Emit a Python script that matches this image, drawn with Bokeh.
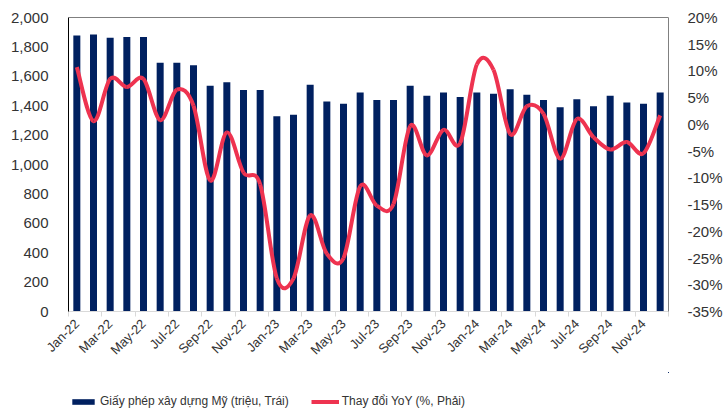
from math import pi
from bokeh.plotting import figure
from bokeh.layouts import column
from bokeh.models import (Range1d, LinearAxis, FixedTicker, NumeralTickFormatter,
                          PrintfTickFormatter, Legend, LegendItem, Span, ColumnDataSource)
from bokeh.embed import file_html
from bokeh.resources import INLINE

months = ["Jan-22", "Feb-22", "Mar-22", "Apr-22", "May-22", "Jun-22", "Jul-22", "Aug-22",
          "Sep-22", "Oct-22", "Nov-22", "Dec-22", "Jan-23", "Feb-23", "Mar-23", "Apr-23",
          "May-23", "Jun-23", "Jul-23", "Aug-23", "Sep-23", "Oct-23", "Nov-23", "Dec-23",
          "Jan-24", "Feb-24", "Mar-24", "Apr-24", "May-24", "Jun-24", "Jul-24", "Aug-24",
          "Sep-24", "Oct-24", "Nov-24", "Dec-24"]
permits = [1878, 1884, 1862, 1868, 1868, 1692, 1692, 1676, 1535, 1560, 1506, 1506,
           1329, 1338, 1542, 1429, 1413, 1490, 1438, 1438, 1535, 1467, 1490, 1460,
           1490, 1481, 1512, 1474, 1438, 1390, 1444, 1397, 1467, 1422, 1413, 1490]
yoy = [10.7, 0.6, 8.5, 7.0, 8.5, 0.8, 6.5, 3.5, -10.5, -1.5, -9.0, -11.2,
       -28.8, -28.8, -17.0, -24.2, -25.0, -11.6, -15.2, -14.9, -0.3, -5.8, -1.0, -3.5,
       11.2, 10.2, -1.8, 3.4, 2.0, -6.4, 1.0, -2.4, -4.7, -3.3, -5.4, 1.7]
left_ticks = list(range(0, 2001, 200))
right_ticks = list(range(-35, 21, 5))
label_name_bar = "Giấy phép xây dựng Mỹ (triệu, Trái)"
label_name_line = "Thay đổi YoY (%, Phải)"

NAVY = "#002060"
RED = "#EE3350"
FONT = "Liberation Sans"
TXT = "#333333"
W = 725

n = len(months)
xs = list(range(n))

p = figure(width=W, height=372, output_backend="svg", toolbar_location=None,
           x_range=Range1d(-0.5, n - 0.5), y_range=Range1d(0, 2000),
           min_border_left=68, min_border_right=W - 671, min_border_top=17, min_border_bottom=61)
p.extra_y_ranges = {"pct": Range1d(-35, 20)}
p.xgrid.visible = False
p.ygrid.visible = False
p.outline_line_color = None

src = ColumnDataSource(dict(x=xs, permits=permits, yoy=yoy))
bars = p.vbar(x="x", top="permits", width=0.42, source=src, fill_color=NAVY, line_color=None)

# smooth curve (Catmull-Rom style Bezier like spreadsheet smoothed lines)
x0, y0, x1, y1, cx0, cy0, cx1, cy1 = [], [], [], [], [], [], [], []
for i in range(n - 1):
    ip = max(i - 1, 0)
    inx = min(i + 2, n - 1)
    x0.append(xs[i]); y0.append(yoy[i]); x1.append(xs[i + 1]); y1.append(yoy[i + 1])
    cx0.append(xs[i] + (xs[i + 1] - xs[ip]) / 6.0)
    cy0.append(yoy[i] + (yoy[i + 1] - yoy[ip]) / 6.0)
    cx1.append(xs[i + 1] - (xs[inx] - xs[i]) / 6.0)
    cy1.append(yoy[i + 1] - (yoy[inx] - yoy[i]) / 6.0)
bsrc = ColumnDataSource(dict(x0=x0, y0=y0, x1=x1, y1=y1, cx0=cx0, cy0=cy0, cx1=cx1, cy1=cy1))
curve = p.bezier(x0="x0", y0="y0", x1="x1", y1="y1", cx0="cx0", cy0="cy0", cx1="cx1", cy1="cy1",
                 source=bsrc, line_color=RED, line_width=4, y_range_name="pct")

# x axis
xa = p.xaxis[0]
xa.ticker = FixedTicker(ticks=xs[::2], minor_ticks=[i - 0.5 for i in range(0, n + 1, 2)])
xa.major_label_overrides = {i: months[i] for i in xs[::2]}
xa.major_label_orientation = pi / 4
xa.major_tick_line_color = None
xa.minor_tick_in = 0
xa.minor_tick_out = 5
xa.minor_tick_line_color = "#d9d9d9"
xa.axis_line_color = "#d9d9d9"
xa.major_label_text_font = FONT
xa.major_label_text_font_size = "13px"
xa.major_label_text_color = TXT
xa.major_label_standoff = 4

# left axis
ya = p.yaxis[0]
ya.ticker = FixedTicker(ticks=left_ticks)
ya.formatter = NumeralTickFormatter(format="0,0")
ya.major_tick_line_color = None
ya.minor_tick_line_color = None
ya.axis_line_color = "black"
ya.major_label_text_font = FONT
ya.major_label_text_font_size = "15px"
ya.major_label_text_color = TXT
ya.major_label_standoff = 14

# right axis
ra = LinearAxis(y_range_name="pct", ticker=FixedTicker(ticks=right_ticks),
                formatter=PrintfTickFormatter(format="%d%%"))
ra.major_tick_line_color = None
ra.minor_tick_line_color = None
ra.axis_line_color = "#808080"
ra.major_label_text_font = FONT
ra.major_label_text_font_size = "15px"
ra.major_label_text_color = TXT
ra.major_label_standoff = 13
p.add_layout(ra, "right")

p.add_layout(Span(location=2000, dimension="width", line_color="black", line_width=1))

# legend strip below the chart (its sample glyphs use the same data, kept outside its view)
lg = figure(width=W, height=36, output_backend="svg", toolbar_location=None,
            x_range=Range1d(-1000, -999), y_range=Range1d(-1000, -999),
            x_axis_type=None, y_axis_type=None,
            min_border_left=0, min_border_right=0, min_border_top=0, min_border_bottom=0)
lg.outline_line_color = None
lbars = lg.vbar(x="x", top="permits", width=0.42, source=src, fill_color=NAVY, line_color=None)
lcurve = lg.bezier(x0="x0", y0="y0", x1="x1", y1="y1", cx0="cx0", cy0="cy0", cx1="cx1", cy1="cy1",
                   source=bsrc, line_color=RED, line_width=4)
legend = Legend(items=[LegendItem(label=label_name_bar, renderers=[lbars]),
                       LegendItem(label=label_name_line, renderers=[lcurve])],
                orientation="horizontal", location=(1, 0),
                glyph_width=28, glyph_height=7, label_standoff=3, spacing=22,
                padding=2, margin=0, border_line_color=None, background_fill_alpha=0,
                label_text_font=FONT, label_text_font_size="12px", label_text_color=TXT)
lg.add_layout(legend)

open("out.html", "w").write(file_html(column(p, lg), INLINE))
